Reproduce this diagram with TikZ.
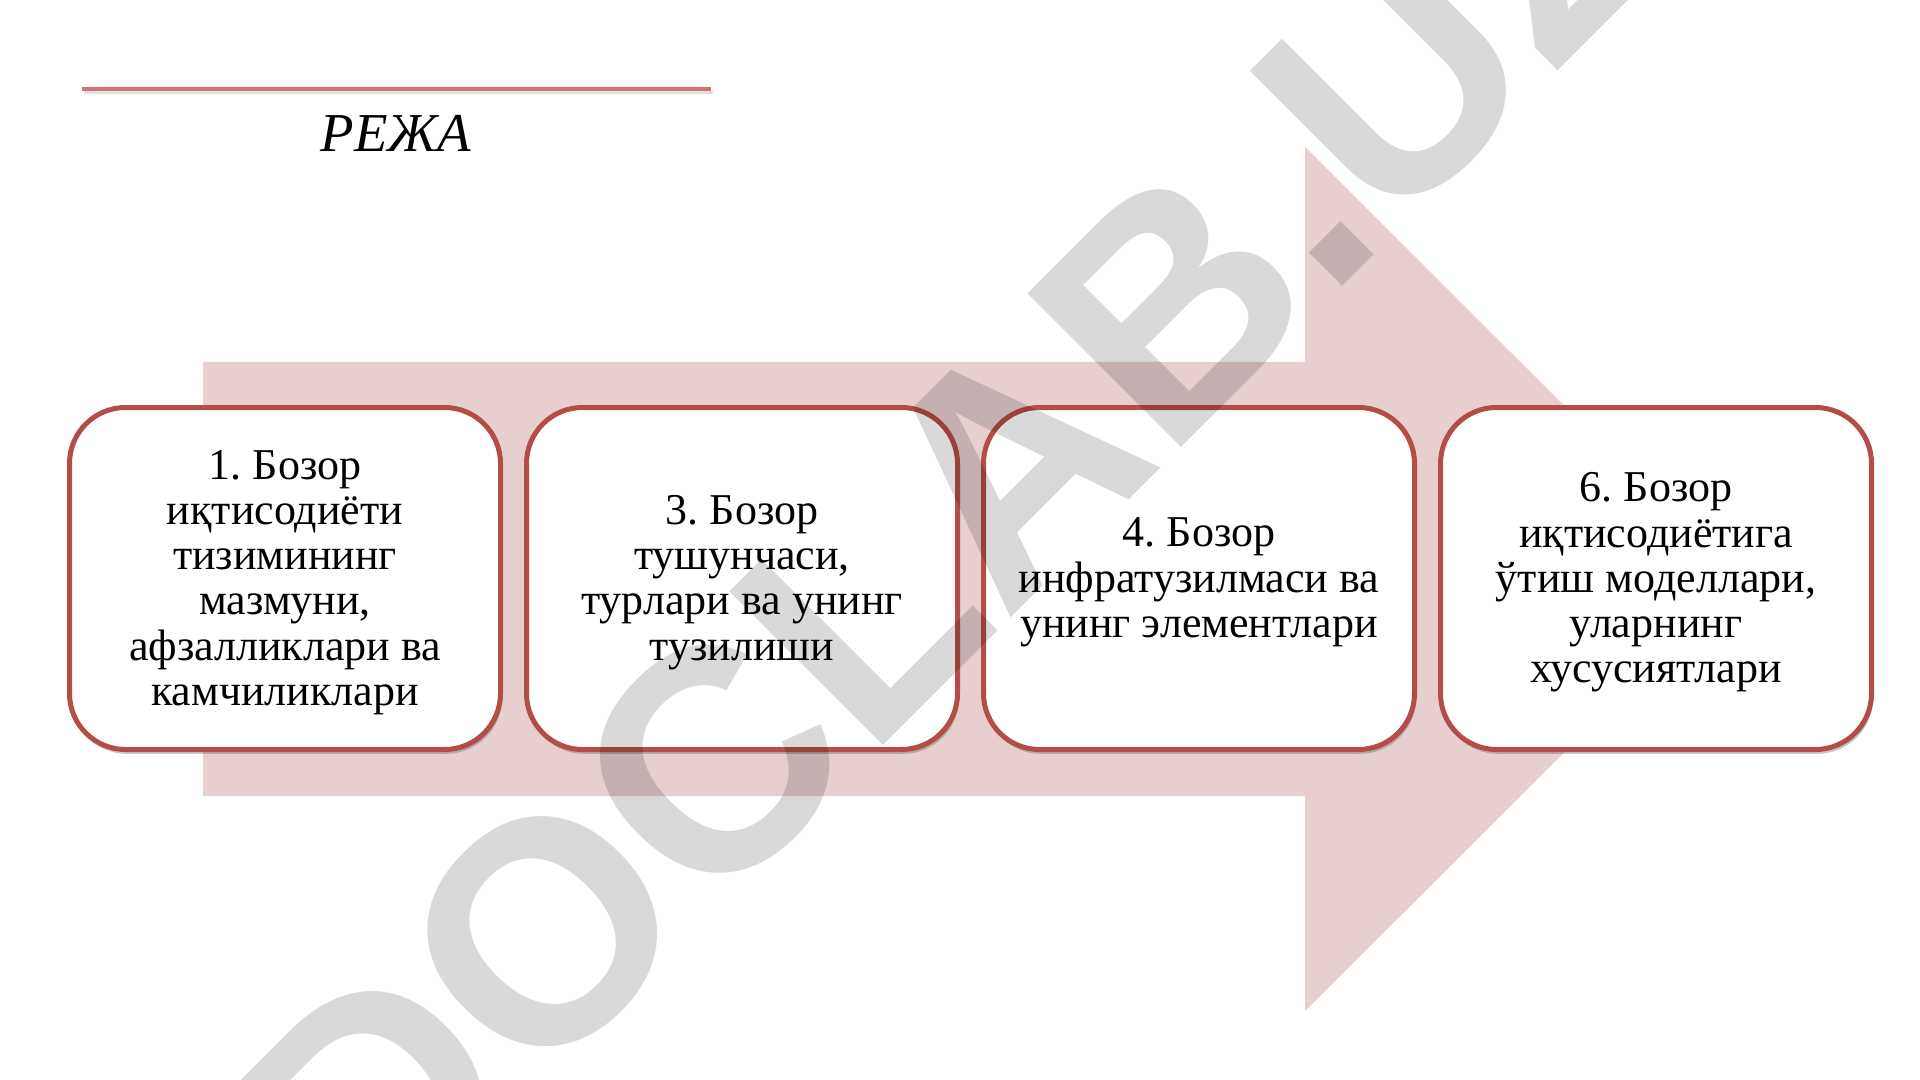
\documentclass[tikz,border=0pt]{standalone}
\usepackage{fontspec}
\setmainfont{Liberation Serif}
\newfontfamily\wmfont{Liberation Sans}
\usetikzlibrary{shadows}
\definecolor{arrowpink}{RGB}{231,207,207}
\definecolor{boxred}{RGB}{180,76,72}
\definecolor{linered}{RGB}{212,112,112}
\frenchspacing
\begin{document}
\begin{tikzpicture}[x=0.5pt,y=-0.5pt,
  stepbox/.style={draw=boxred, line width=2.5pt, fill=white, rounded corners=28pt,
    minimum width=215.5pt, minimum height=171pt, inner sep=0pt,
    drop shadow={shadow xshift=0.8pt, shadow yshift=-2.2pt, opacity=0.3, fill=black!70}},
  steptext/.style={align=center, inner sep=0pt, font=\fontsize{22}{22.65}\selectfont},
  titletext/.style={font=\itshape\fontsize{27.4}{30}\selectfont, inner sep=0pt, anchor=base},
  wmark/.style={font=\wmfont\bfseries\fontsize{158}{160}\selectfont, text=black, text opacity=0.15, inner sep=0pt}
]
\useasboundingbox (0,0) rectangle (1920,1080);
\fill[white] (0,0) rectangle (1920,1080);
% title line
\draw[black, opacity=0.12, line width=1.5pt] (84,93) -- (713,93);
\draw[linered, line width=1.6pt] (82,89) -- (711,89);
\node[titletext] (title) at (396,152) {РЕЖА};
% big arrow
\fill[arrowpink] (203,362) -- (1305,362) -- (1305,147) -- (1738,579) -- (1305,1011) -- (1305,796) -- (203,796) -- cycle;
% boxes
\node[stepbox] (b1) at (285,578.5) {};
\node[stepbox] (b2) at (742,578.5) {};
\node[stepbox] (b3) at (1199,578.5) {};
\node[stepbox] (b4) at (1656,578.5) {};
% texts
\node[steptext] (t1) at ([yshift=-2pt]b1.center) {1. Бозор\\иқтисодиёти\\тизимининг\\мазмуни,\\афзалликлари ва\\камчиликлари};
\node[steptext] (t2) at ([yshift=-2pt]b2.center) {3. Бозор\\тушунчаси,\\турлари ва унинг\\тузилиши};
\node[steptext] (t3) at ([yshift=-2pt]b3.center) {4. Бозор\\инфратузилмаси ва\\унинг элементлари};
\node[steptext] (t4) at ([yshift=-2pt]b4.center) {6. Бозор\\иқтисодиётига\\ўтиш моделлари,\\уларнинг\\хусусиятлари};
% watermark
\begin{scope}
\clip (0,0) rectangle (1920,1080);
\node[wmark, rotate=45, anchor=base west] (wm) at (372,1257) {DOCLAB.UZ};
\end{scope}
\end{tikzpicture}
\end{document}
